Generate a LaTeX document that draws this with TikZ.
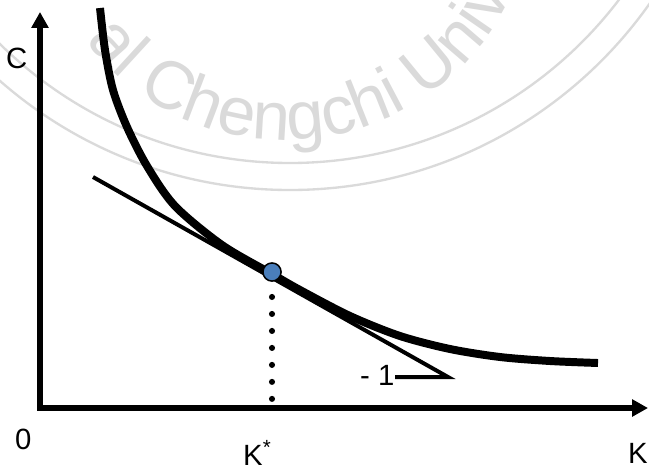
\documentclass[tikz,border=0pt]{standalone}
\usepackage{fontspec}
\setmainfont{Liberation Sans}
\usetikzlibrary{arrows.meta,decorations.text}
\definecolor{wmGray}{HTML}{DADADA}
\definecolor{optBlue}{HTML}{4A7EBB}
\newcommand{\wmfont}{\fontsize{58}{68}\selectfont\color{wmGray}}

\begin{document}
\begin{tikzpicture}[x=0.03cm, y=-0.03cm,
  axes/.style={line width=4.3pt, arrows={Triangle[length=13.5pt,width=14pt]-Triangle[length=13.5pt,width=14pt]}},
  axislabel/.style={anchor=base west, inner sep=0pt, font=\fontsize{25}{30}\selectfont},
  utility/.style={line width=6.8pt},
  budget/.style={line width=3.4pt},
  dropline/.style={line width=5.2pt, line cap=round, dash pattern=on 0pt off 14.5pt},
  optdot/.style={circle, draw=black, line width=1.3pt, fill=optBlue, minimum size=15.5pt, inner sep=0pt},
  wmring/.style={draw=wmGray, line width=2pt}]
  \useasboundingbox (0,0) rectangle (649,468);
  \clip (0,0) rectangle (649,468);
  % Watermark
  \coordinate (wmc) at (290,-250);
  \coordinate (wmt) at (285,-110);
  \path[wmring] (wmc) circle[radius=413];
  \path[wmring] (wmc) circle[radius=440];
  \path[decorate, decoration={text along path, text={|\wmfont|al Chengchi Univ}}]
    ([shift={(wmt)}]142.8:250) arc[start angle=142.8, end angle=15, radius=250];
  % Axes
  \coordinate (orig) at (40,408);
  \coordinate (ytop) at (40,12);
  \coordinate (xend) at (648,408);
  \draw[axes] (ytop) -- (orig) -- (xend);
  \node[axislabel] (lblC) at (6,68) {C};
  \node[axislabel] (lbl0) at (15,449) {0};
  \node[axislabel] (lblKs) at (243,465) {K\textsuperscript{*}};
  \node[axislabel] (lblK) at (628,463) {K};
  % Indifference curve
  \draw[utility] plot[smooth, tension=0.5] coordinates {(100,8) (105,50) (113,90) (127,127) (147,166) (175,206) (222,245) (272,274) (300,290) (350,316) (400,336) (450,349) (500,357) (550,361) (598,363)};
  % Tangent with slope -1
  \coordinate (tanA) at (93,177);
  \coordinate (tanB) at (448,377);
  \coordinate (tanC) at (395,377);
  \draw[budget] (tanA) -- (tanB) -- (tanC);
  \node[axislabel] (slope) at (360,385) {- 1};
  % Optimum and drop line
  \node[optdot] (opt) at (272,272) {};
  \coordinate (kfoot) at (272,400);
  \draw[dropline] ([yshift=-21.3pt]opt.center) -- (kfoot);
\end{tikzpicture}
\end{document}
